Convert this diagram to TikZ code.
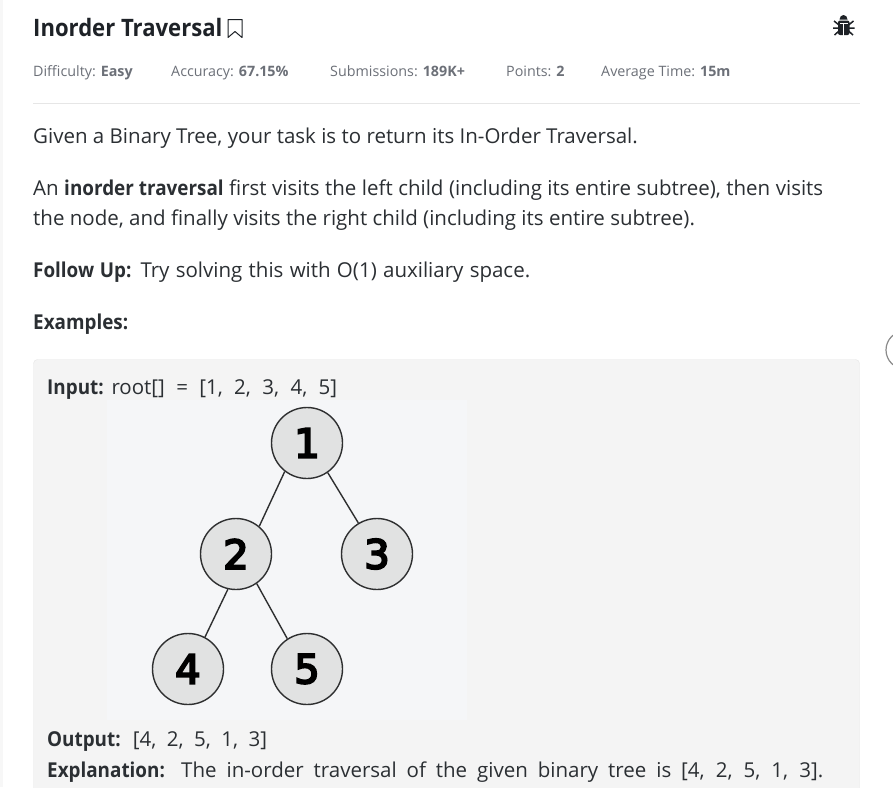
\documentclass[tikz,border=0pt]{standalone}
\usepackage{fontspec}
\usepackage{xcolor}
\setmainfont{Open Sans}
\newfontfamily\narrowfam[FakeStretch=0.92]{Open Sans}
\newfontfamily\digitfont[FakeBold=5]{DejaVu Sans}
\newcommand{\hb}[1]{{\narrowfam\bfseries #1}}
\usetikzlibrary{positioning}
\definecolor{inkdark}{HTML}{1E2227}
\definecolor{inkbody}{HTML}{2B2F33}
\definecolor{inkmeta}{HTML}{6C7078}
\definecolor{cardfill}{HTML}{F4F4F4}
\definecolor{cardline}{HTML}{E6E6E6}
\definecolor{treefill}{HTML}{F5F6F8}
\definecolor{nodefill}{HTML}{E1E2E2}
\definecolor{edgeline}{HTML}{2E2F30}
\tikzset{
    bodytext/.style={anchor=base west, inner sep=0pt, text=inkbody, font=\fontsize{20.5}{24}\selectfont},
    metatext/.style={anchor=base west, inner sep=0pt, text=inkmeta, font=\fontsize{14.3}{17}\selectfont},
    treenode/.style={circle, draw=edgeline, line width=1.4pt, fill=nodefill, minimum size=71pt, inner sep=0pt, text=black, font=\digitfont\fontsize{40}{40}\selectfont},
    treeedge/.style={draw=edgeline, line width=1.4pt}
}
\begin{document}
\begin{tikzpicture}[x=1pt, y=-1pt, node distance=111pt and 71pt, on grid]
    \useasboundingbox (0,0) rectangle (893,787);
    \fill[white] (0,0) rectangle (893,787);
    \fill[black!3] (0,0) rectangle (3,787);

    % header
    \node[anchor=base west, inner sep=0pt, text=inkdark, font=\narrowfam\bfseries\fontsize{24}{28}\selectfont] (title) at (33,36) {Inorder Traversal};
    \draw[inkdark, line width=1pt, line join=round] (228,19.5) -- (242,19.5) -- (242,37.5) -- (235,31.5) -- (228,37.5) -- cycle;
    \node[metatext] (difficulty) at (33,76) {Difficulty: \textbf{Easy}};
    \node[metatext] (accuracy) at (171,76) {Accuracy: \textbf{67.15\%}};
    \node[metatext] (submissions) at (330,76) {Submissions: \textbf{189K+}};
    \node[metatext] (points) at (506,76) {Points: \textbf{2}};
    \node[metatext] (avgtime) at (601,76) {Average Time: \textbf{15m}};
    \draw[cardline, line width=1pt] (33,103.5) -- (860,103.5);

    % bug icon
    \fill[inkdark] (839.5,19.5) arc (180:360:4 and 4.5) -- cycle;
    \fill[inkdark, rounded corners=2pt] (838,20.5) rectangle (849.5,35);
    \draw[white, line width=1pt] (840,23.5) -- (847.5,23.5) (843.8,23.5) -- (843.8,36);
    \draw[inkdark, line width=1.5pt] (834,21) -- (839,25) (853.5,21) -- (848.5,25) (833,28) -- (839,28) (854.5,28) -- (848.5,28) (834.5,35) -- (839,31) (853,35) -- (848.5,31);

    % text
    \node[bodytext] (line1) at (33,143) {Given a Binary Tree, your task is to return its In-Order Traversal.};
    \node[bodytext] (line2) at (33,195) {\makebox[790pt][s]{An \hb{inorder traversal} first visits the left child (including its entire subtree), then visits}};
    \node[bodytext] (line3) at (33,225) {the node, and finally visits the right child (including its entire subtree).};
    \node[bodytext] (line4) at (33,277) {\makebox[497pt][s]{\hb{Follow Up:} Try solving this with O(1) auxiliary space.}};
    \node[bodytext] (line5) at (33,329) {\hb{Examples:}};

    % example card
    \draw[cardline, fill=cardfill, rounded corners=4pt] (33.5,359.5) rectangle (859.5,800);
    \draw[black!40!cardline, line width=1.2pt] (905,350) circle (19);
    \fill[treefill] (107,400) rectangle (467,720);
    \node[bodytext] (input) at (47,394) {\makebox[290pt][s]{\hb{Input:} root[] \ = \ [1, \ 2, \ 3, \ 4, \ 5]}};
    \node[bodytext] (output) at (47,746) {\makebox[220pt][s]{\hb{Output:} \ [4, \ 2, \ 5, \ 1, \ 3]}};
    \node[bodytext] (explain) at (47,777) {\makebox[776pt][s]{\hb{Explanation:} The in-order traversal of the given binary tree is [4, 2, 5, 1, 3].}};

    % tree
    \node[treenode] (one) at (307,443) {1};
    \node[treenode, below left=of one] (two) {2};
    \node[treenode, below right=111pt and 70pt of one] (three) {3};
    \node[treenode, below left=115pt and 48pt of two] (four) {4};
    \node[treenode, below right=115pt and 71pt of two] (five) {5};

    \draw[treeedge] (one.232) -- (two.50);
    \draw[treeedge] (one.-55) -- (three.121);
    \draw[treeedge] (two.-103) -- (four.62);
    \draw[treeedge] (two.-55) -- (five.123);
\end{tikzpicture}
\end{document}
